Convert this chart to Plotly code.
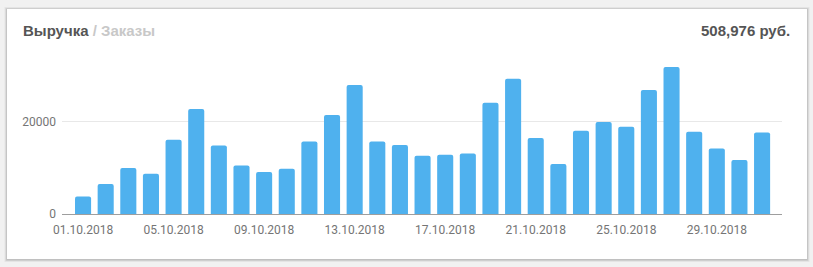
import plotly.graph_objects as go

dates = [f"{d:02d}.10.2018" for d in range(1, 32)]
revenue = [3800, 6480, 9930, 8700, 16050, 22680, 14820, 10500, 9070, 9780,
           15680, 21380, 27860, 15680, 14900, 12590, 12800, 13090, 24040, 29220,
           16410, 10800, 17990, 19870, 18860, 26780, 31750, 17780, 14170, 11660, 17620]
tick_labels = [dates[i] for i in range(0, 31, 4)]
title_main = "Выручка"
title_alt = " / Заказы"
total_text = "508,976 руб."

W, H = 813, 267
ml, mr, mt, mb = 62, 31, 57, 53
pw = W - ml - mr
ph = H - mt - mb

def px(x):
    return (x - ml) / pw

def py(y):
    return (H - mb - y) / ph

fig = go.Figure()
fig.add_trace(go.Bar(x=list(range(31)), y=revenue, marker_color="#4fb1ee",
                     marker_line_width=0, hoverinfo="skip"))

shapes = []
# card shadow
for off, op in [(2.5, 0.05), (1.5, 0.07), (0.7, 0.09)]:
    shapes.append(dict(type="rect", xref="paper", yref="paper", layer="below",
                       x0=px(7 - off), x1=px(807 + off), y0=py(259 + off + 0.5), y1=py(9 - off + 0.5),
                       line_width=0, fillcolor=f"rgba(0,0,0,{op})"))
shapes.append(dict(type="rect", xref="paper", yref="paper", layer="below",
                   x0=px(7), x1=px(807), y0=py(259), y1=py(9),
                   line_width=0, fillcolor="white"))

fig.update_layout(
    width=W, height=H,
    margin=dict(l=ml, r=mr, t=mt, b=mb),
    paper_bgcolor="#f1f1f1", plot_bgcolor="rgba(0,0,0,0)",
    showlegend=False, bargap=0.29, barcornerradius=2,
    font=dict(family="Roboto", size=12, color="#757575"),
    xaxis=dict(range=[-0.93, 30.88], tickmode="array",
               tickvals=list(range(0, 31, 4)), ticktext=tick_labels,
               showgrid=False, showline=True, linecolor="#9e9e9e", linewidth=1,
               ticks="", ticklen=0, zeroline=False, fixedrange=True,
               ticklabelstandoff=5,
               tickfont=dict(size=12, color="#757575")),
    yaxis=dict(range=[0, ph / 4.63 * 1000], tickmode="array", tickvals=[0, 20000],
               ticktext=["0", "20000"], showgrid=True, gridcolor="#e8e8e8", gridwidth=1,
               zeroline=False, showline=False, ticks="", ticklabelstandoff=5,
               tickfont=dict(size=12, color="#757575")),
    shapes=shapes,
    annotations=[
        dict(xref="paper", yref="paper", x=px(21), y=py(30.5), xanchor="left", yanchor="middle",
             showarrow=False,
             text=f"<b>{title_main}</b><span style='color:#c8c8c8'><b>{title_alt}</b></span>",
             font=dict(family="Liberation Sans, Arial", size=15, color="#555555")),
        dict(xref="paper", yref="paper", x=px(792), y=py(30.5), xanchor="right", yanchor="middle",
             showarrow=False, text=f"<b>{total_text}</b>",
             font=dict(family="Liberation Sans, Arial", size=15, color="#555555")),
    ],
)
fig.write_html("out.html")
